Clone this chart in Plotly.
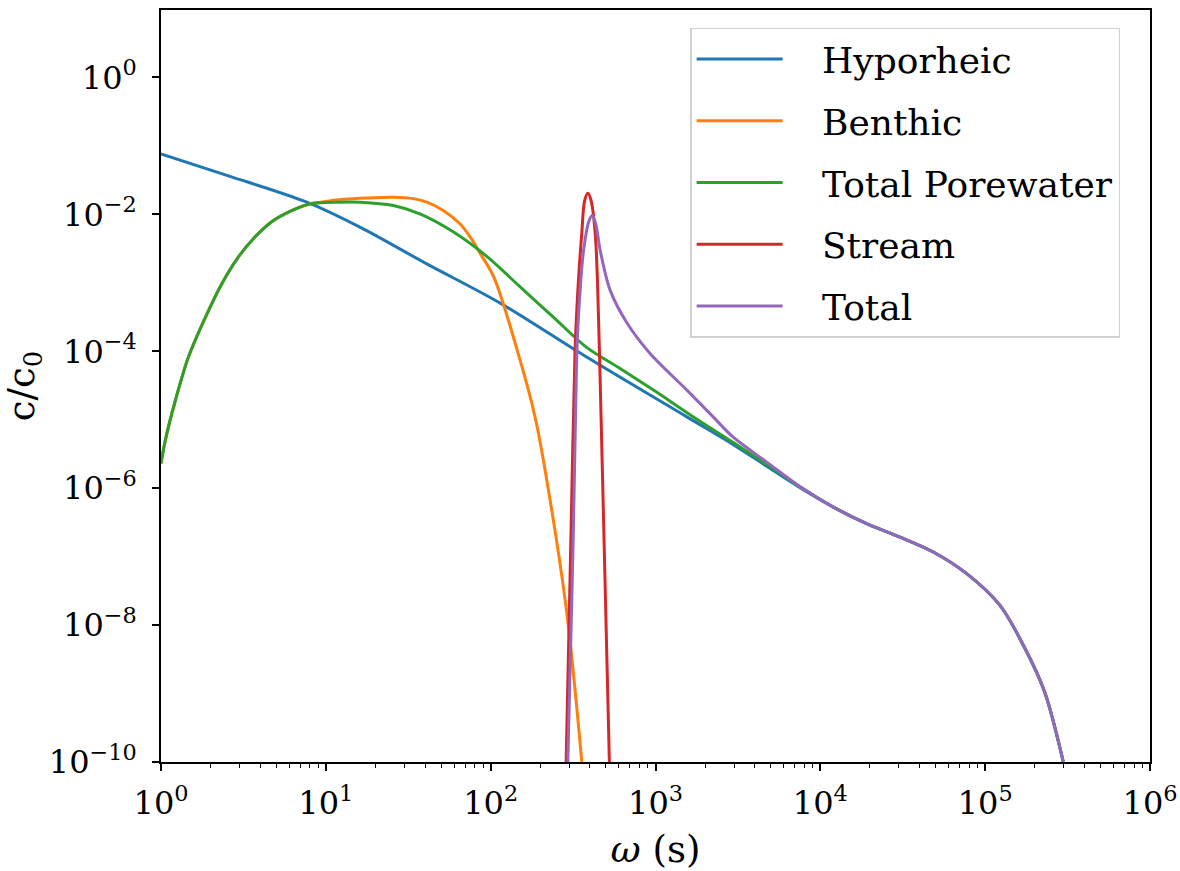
import plotly.graph_objects as go

# ---- data (omega in s, c/c0) ----
hyp_x = [1.0, 2.51, 7.67, 16.2, 40.7, 115, 380, 1549, 2951, 4732, 7534, 11990, 19100,
         30410, 48420, 77270, 123000, 174200, 230100, 297900]
hyp_y = [0.0767, 0.0372, 0.0151, 0.00646, 0.00191, 5.01e-4, 8.3e-5, 1.1e-5, 4.37e-6,
         2.09e-6, 1.02e-6, 5.3e-7, 3.03e-7, 1.93e-7, 1.17e-7, 5.64e-8, 1.94e-8, 4.58e-9,
         1.04e-9, 1.0e-10]

ben_x = [1.0, 1.062, 1.222, 1.469, 1.862, 2.344, 2.951, 3.715, 4.677, 5.888, 7.85, 9.33,
         12.8, 17.8, 25.7, 33.9, 41.0, 51.3, 65.3, 75.1, 86.4, 104.7, 151.0, 186.2,
         219.2, 289.8, 357.3]
ben_y = [2.29e-6, 5.0e-6, 1.91e-5, 8.3e-5, 3.16e-4, 9.8e-4, 2.4e-3, 4.68e-3, 7.76e-3,
         0.0107, 0.0141, 0.0151, 0.0166, 0.0174, 0.0178, 0.0170, 0.0151, 0.0115, 0.00724,
         0.00468, 0.00269, 1.2e-3, 7.36e-5, 1.08e-5, 1.3e-6, 1.49e-8, 1.0e-10]

por_x = [1.0, 1.062, 1.222, 1.469, 1.862, 2.344, 2.951, 3.715, 4.677, 5.888, 7.85, 12.0,
         16.2, 25.7, 37.2, 58.9, 95.5, 151, 240, 380, 610, 977, 1698, 2951, 4732, 7534,
         11990, 19100, 30410, 48420, 77270, 123000, 174200, 230100, 297900]
por_y = [2.29e-6, 5.0e-6, 1.91e-5, 8.3e-5, 3.16e-4, 9.8e-4, 2.4e-3, 4.68e-3, 7.76e-3,
         0.0107, 0.0141, 0.0151, 0.0151, 0.0135, 0.0102, 0.00562, 0.0024, 8.7e-4, 3.16e-4,
         1.15e-4, 5.6e-5, 2.69e-5, 1.1e-5, 4.68e-6, 2.24e-6, 1.05e-6, 5.3e-7, 3.03e-7,
         1.93e-7, 1.17e-7, 5.64e-8, 1.94e-8, 4.58e-9, 1.04e-9, 1.0e-10]

str_x = [287, 309, 325, 340, 357, 371.5, 389, 407, 431, 445, 457, 483, 525]
str_y = [1.0e-10, 4.3e-7, 1.02e-4, 9.8e-4, 5.25e-3, 0.0158, 0.0204, 0.0158, 5.25e-3,
         9.8e-4, 1.02e-4, 4.3e-7, 1.0e-10]

tot_x = [294, 316, 330, 336, 349, 366, 394, 413, 435, 462, 531, 673, 927, 1556, 2239,
         2951, 4732, 7534, 11990, 19100, 30410, 48420, 77270, 123000, 174200, 230100,
         297900]
tot_y = [1.0e-10, 1.38e-7, 3.39e-5, 1.62e-4, 7.76e-4, 2.97e-3, 7.9e-3, 9.66e-3, 7.1e-3,
         2.97e-3, 7.76e-4, 2.57e-4, 9.3e-5, 2.69e-5, 1.1e-5, 5.6e-6, 2.4e-6, 1.05e-6,
         5.3e-7, 3.03e-7, 1.93e-7, 1.17e-7, 5.64e-8, 1.94e-8, 4.58e-9, 1.04e-9, 1.0e-10]

series = [
    ("Hyporheic", hyp_x, hyp_y, "#1f77b4"),
    ("Benthic", ben_x, ben_y, "#ff7f0e"),
    ("Total Porewater", por_x, por_y, "#2ca02c"),
    ("Stream", str_x, str_y, "#d62728"),
    ("Total", tot_x, tot_y, "#9467bd"),
]

x_tickvals = [1, 10, 100, 1000, 10000, 100000, 1000000]
x_ticktext = ["10<sup>0</sup>", "10<sup>1</sup>", "10<sup>2</sup>", "10<sup>3</sup>",
              "10<sup>4</sup>", "10<sup>5</sup>", "10<sup>6</sup>"]
y_tickvals = [1e-10, 1e-8, 1e-6, 1e-4, 1e-2, 1]
y_ticktext = ["10<sup>\u221210</sup>", "10<sup>\u22128</sup>", "10<sup>\u22126</sup>",
              "10<sup>\u22124</sup>", "10<sup>\u22122</sup>", "10<sup>0</sup>"]
x_minor = [m * 10 ** k for k in range(6) for m in range(2, 10)]

FONT = "DejaVu Serif"
PAD = "\u00a0\u00a0\u00a0"

fig = go.Figure()
for name, xs, ys, col in series:
    fig.add_trace(go.Scatter(
        x=xs, y=ys, mode="lines", name=PAD + name, legendgroup=name,
        line=dict(color=col, width=3, shape="spline", smoothing=0.9),
    ))

axis_common = dict(
    type="log", showline=True, linecolor="black", linewidth=1.6, mirror=True,
    ticks="outside", ticklen=7, tickwidth=1.5, tickcolor="black",
    showgrid=False, zeroline=False, automargin=False,
    tickfont=dict(family=FONT, size=32, color="black"),
    tickmode="array",
)

fig.update_xaxes(
    **axis_common, range=[0, 6], tickvals=x_tickvals, ticktext=x_ticktext,
    ticklabelstandoff=5,
    minor=dict(tickmode="array", tickvals=x_minor, ticks="outside", ticklen=4,
               tickwidth=1.2, tickcolor="black", showgrid=False),
    title=dict(text="<i>\u03c9</i> (s)", font=dict(family=FONT, size=37, color="black"),
               standoff=18),
)
fig.update_yaxes(
    **axis_common, range=[-10, 0.986], tickvals=y_tickvals, ticktext=y_ticktext,
    ticklabelstandoff=9,
    title=dict(text="c/c<sub>0</sub>", font=dict(family=FONT, size=37, color="black"),
               standoff=18),
)

fig.update_layout(
    width=1180, height=871,
    margin=dict(l=161, r=30, t=10, b=109),
    paper_bgcolor="white", plot_bgcolor="white",
    font=dict(family=FONT, color="black"),
    legend=dict(
        x=0.535, y=0.9767, xanchor="left", yanchor="top",
        font=dict(family=FONT, size=36, color="black"),
        bgcolor="white", bordercolor="#d0d0d0", borderwidth=1.5,
        itemwidth=86, tracegroupgap=12, traceorder="grouped",
    ),
    showlegend=True,
)

fig.write_html("out.html")
